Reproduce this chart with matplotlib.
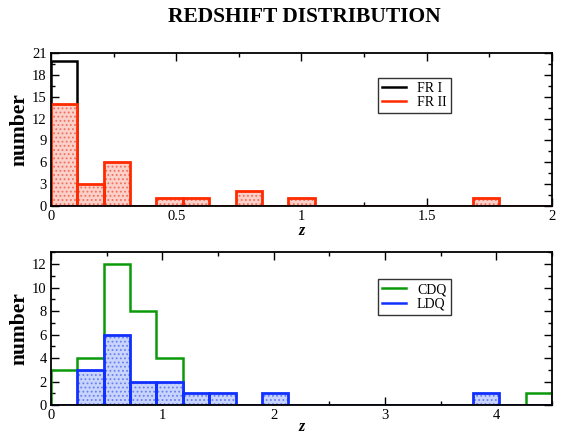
"""Redshift histograms for radio galaxies (FR I / FR II) and quasars (CDQ / LDQ)."""

import numpy as np
import matplotlib
matplotlib.use("Agg")
import matplotlib.pyplot as plt
from matplotlib.ticker import MultipleLocator, FuncFormatter

# 19 equal bins over each panel's z range
N_BINS = 19
Z_MAX_GAL = 2.0
Z_MAX_QSO = 4.5

fr1_counts = [20, 0, 0, 0, 0, 0, 0, 0, 0, 0, 0, 0, 0, 0, 0, 0, 0, 0, 0]
fr2_counts = [14, 3, 6, 0, 1, 1, 0, 2, 0, 1, 0, 0, 0, 0, 0, 0, 1, 0, 0]
cdq_counts = [3, 4, 12, 8, 4, 0, 0, 0, 0, 0, 0, 0, 0, 0, 0, 0, 0, 0, 1]
ldq_counts = [0, 3, 6, 2, 2, 1, 1, 0, 1, 0, 0, 0, 0, 0, 0, 0, 1, 0, 0]

labels_gal = ["FR I", "FR II"]
labels_qso = ["CDQ", "LDQ"]

plt.rcParams["font.family"] = ["Liberation Serif", "DejaVu Serif"]
plt.rcParams["hatch.linewidth"] = 0.8

fig = plt.figure(figsize=(5.62, 4.36), dpi=100)
ax1 = fig.add_axes([0.0907, 0.5282, 0.8915, 0.3496])
ax2 = fig.add_axes([0.0907, 0.0711, 0.8915, 0.3502])


def draw_panel(ax, zmax, open_counts, filled_counts, open_color, fill_color,
               fill_face, hatch_color, labels, zpad):
    edges = np.linspace(0, zmax, N_BINS + 1)
    width = edges[1] - edges[0]
    # open histogram underneath
    ax.stairs(open_counts, edges, baseline=0, color=open_color, lw=1.8,
              zorder=2)
    # stippled filled bars on top
    ax.bar(edges[:-1], filled_counts, width=width, align="edge",
           facecolor=fill_face, edgecolor=hatch_color, hatch="....",
           linewidth=0, zorder=3)
    ax.bar(edges[:-1], filled_counts, width=width, align="edge",
           facecolor="none", edgecolor=fill_color, linewidth=2.0, zorder=4)
    ax.plot([], [], color=open_color, lw=1.8, label=labels[0])
    ax.plot([], [], color=fill_color, lw=1.8, label=labels[1])
    ax.set_xlim(0, zmax)
    ax.tick_params(which="both", direction="in", top=True, right=True,
                   labelsize=10.5, width=1.0, pad=3)
    ax.tick_params(which="major", length=6)
    ax.tick_params(which="minor", length=3)
    for sp in ax.spines.values():
        sp.set_linewidth(1.3)
        sp.set_zorder(5)
    ax.xaxis.set_major_formatter(FuncFormatter(lambda v, p: f"{v:g}"))
    ax.set_xlabel("z", fontsize=11.5, fontweight="bold", style="italic",
                  labelpad=zpad)
    ax.set_ylabel("number", fontsize=15.5, fontweight="bold", labelpad=2)
    leg = ax.legend(loc="upper left", fontsize=10, frameon=True,
                    fancybox=False, handlelength=1.7, borderpad=0.3,
                    labelspacing=0.1, handletextpad=0.8, borderaxespad=0)
    leg.get_frame().set_edgecolor("black")
    leg.get_frame().set_linewidth(1.0)
    return leg


leg1 = draw_panel(ax1, Z_MAX_GAL, fr1_counts, fr2_counts, "black", "#ff2a00",
                  "#fbd0c8", "#f07060", labels_gal, zpad=0)
leg1.set_bbox_to_anchor((0.653, 0.84), transform=ax1.transAxes)
ax1.set_ylim(0, 21)
ax1.xaxis.set_major_locator(MultipleLocator(0.5))
ax1.xaxis.set_minor_locator(MultipleLocator(0.25))
ax1.yaxis.set_major_locator(MultipleLocator(3))
ax1.yaxis.set_minor_locator(MultipleLocator(1.5))

leg2 = draw_panel(ax2, Z_MAX_QSO, cdq_counts, ldq_counts, "#0a9a0a", "#1030ff",
                  "#c8d4fb", "#6a80f0", labels_qso, zpad=-2.5)
leg2.set_bbox_to_anchor((0.653, 0.825), transform=ax2.transAxes)
ax2.set_ylim(0, 13)
ax2.xaxis.set_major_locator(MultipleLocator(1))
ax2.xaxis.set_minor_locator(MultipleLocator(0.5))
ax2.yaxis.set_major_locator(MultipleLocator(2))
ax2.yaxis.set_minor_locator(MultipleLocator(1))

fig.text(0.541, 0.961, "REDSHIFT DISTRIBUTION", ha="center", va="center",
         fontsize=15.5, fontweight="bold")

fig.savefig("out.png", dpi=100)
